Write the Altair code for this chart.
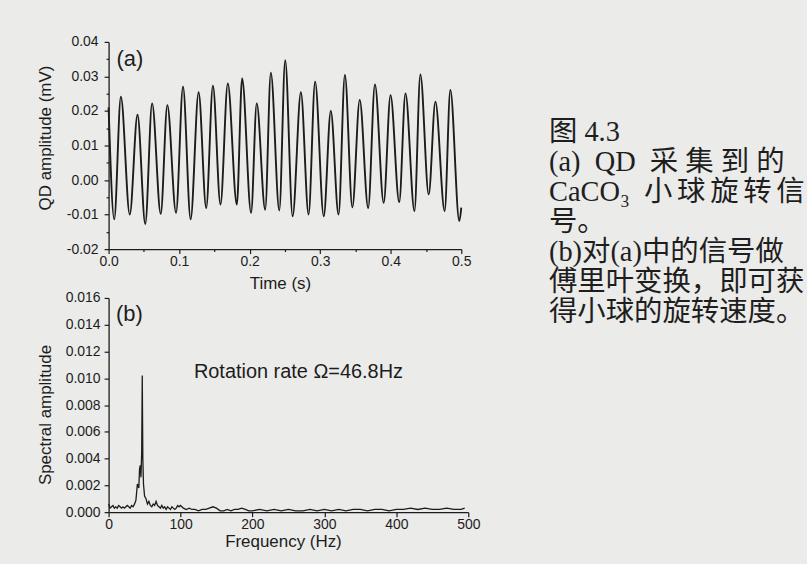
import altair as alt
import pandas as pd

# ---------------- data ----------------
# (a) QD signal: turning points of the trace, time (s) and amplitude (mV)
sig_t = [0.000, 0.008, 0.0174, 0.030, 0.041, 0.052, 0.0617, 0.0739, 0.0833, 0.0956,
         0.1055, 0.1163, 0.1276, 0.1384, 0.1479, 0.1586, 0.169, 0.1818, 0.1893, 0.202,
         0.210, 0.222, 0.230, 0.242, 0.2504, 0.2609, 0.2726, 0.2835, 0.2928, 0.305,
         0.315, 0.326, 0.335, 0.3456, 0.356, 0.368, 0.3776, 0.390, 0.3997, 0.412,
         0.4209, 0.4336, 0.442, 0.4538, 0.4633, 0.4764, 0.4845, 0.4972, 0.500]
sig_v = [0.021, -0.0114, 0.0241, -0.0100, 0.0189, -0.0127, 0.0222, -0.0098, 0.0217, -0.0095,
         0.0270, -0.0114, 0.0254, -0.0081, 0.0273, -0.0071, 0.0280, -0.0071, 0.0294, -0.0095,
         0.0222, -0.0086, 0.0311, -0.0088, 0.0347, -0.0105, 0.0254, -0.0100, 0.0285, -0.0105,
         0.0200, -0.0100, 0.0304, -0.0079, 0.0232, -0.0081, 0.0277, -0.0066, 0.0246, -0.0064,
         0.0251, -0.0090, 0.0306, -0.0042, 0.0227, -0.0090, 0.0261, -0.0119, -0.0080]

# (b) spectrum: frequency (Hz) and spectral amplitude
spec_f = [0, 2, 4, 6, 8, 10, 12, 14, 16, 18,
          20, 22, 24, 26, 28, 30, 32, 34, 36, 38,
          40, 42, 43, 44, 45, 46, 46.8, 47.6, 48.5, 50,
          52, 54, 56, 58, 60, 62, 64, 66, 68, 70,
          72, 74, 76, 78, 80, 82, 84, 86, 88, 90,
          92, 94, 96, 98, 100, 104, 108, 112, 116, 120,
          125, 130, 135, 140, 145, 150, 155, 160, 165, 170,
          175, 180, 185, 190, 195, 200, 210, 220, 230, 240,
          250, 260, 270, 280, 290, 300, 310, 320, 330, 340,
          350, 360, 370, 380, 390, 400, 410, 420, 430, 440,
          450, 460, 470, 480, 490, 495]
spec_a = [0.0006, 0.0003, 0.0004, 0.0005, 0.0003, 0.0004, 0.0003, 0.0005, 0.0004, 0.0003,
          0.0004, 0.0003, 0.0004, 0.0005, 0.0004, 0.0003, 0.0005, 0.0004, 0.0006, 0.0009,
          0.0021, 0.0018, 0.0032, 0.0035, 0.0026, 0.0045, 0.0102, 0.0040, 0.0021, 0.0012,
          0.0010, 0.0006, 0.0008, 0.0005, 0.0004, 0.0006, 0.0005, 0.0008, 0.0005, 0.0004,
          0.0003, 0.0005, 0.0003, 0.0004, 0.0002, 0.0004, 0.0003, 0.0002, 0.0004, 0.0003,
          0.0002, 0.0003, 0.0005, 0.0004, 0.0005, 0.0003, 0.0002, 0.0003, 0.0002, 0.0002,
          0.0001, 0.0002, 0.0002, 0.0003, 0.0004, 0.0003, 0.0001, 0.0001, 0.0002, 0.0001,
          0.0002, 0.0002, 0.0003, 0.0002, 0.0001, 0.0001, 0.0002, 0.0001, 0.0002, 0.0001,
          0.0002, 0.0001, 0.0001, 0.0002, 0.0001, 0.0002, 0.0001, 0.0002, 0.0001, 0.0002,
          0.0002, 0.0001, 0.0002, 0.0002, 0.0001, 0.0002, 0.0002, 0.0003, 0.0002, 0.0003,
          0.0002, 0.0002, 0.0003, 0.0002, 0.0002, 0.0003]

# tick values
top_x_ticks = [0.0, 0.05, 0.1, 0.15, 0.2, 0.25, 0.3, 0.35, 0.4, 0.45, 0.5]
top_y_ticks = [-0.02, -0.015, -0.01, -0.005, 0.0, 0.005, 0.01, 0.015, 0.02,
               0.025, 0.03, 0.035, 0.04]
bot_x_ticks = [0, 100, 200, 300, 400, 500]
bot_y_ticks = [0.0, 0.002, 0.004, 0.006, 0.008, 0.010, 0.012, 0.014, 0.016]

# annotations (placed in data coordinates)
label_a = {"text": "(a)", "t": 0.0113, "v": 0.0351}
label_b = {"text": "(b)", "f": 10.4, "a": 0.0148}
rate_note = {"text": "Rotation rate \u03a9=46.8Hz", "f": 118.6, "a": 0.0105}

# caption beside the figure (wide gaps as set in the page)
caption_lines = ["图 4.3",
                 "(a)\u2002QD\u2002采 集 到 的",
                 "CaCO\u2083\u2002小\u2006球\u2006旋\u2006转\u2006信",
                 "号。",
                 "(b)对(a)中的信号做",
                 "傅里叶变换，即可获",
                 "得小球的旋转速度。"]
caption_row = [0, 1, 2, 3, 4, 5, 6]

# ---------------- styling ----------------
FONT = "Liberation Sans"
CAP_FONT = "Liberation Serif, Noto Sans CJK SC"
INK = "#1c1c1c"
BG = "#ebebe9"
MINUS_FIX = "replace({}, '\u2212', '-')"

# ---------------- (a) time trace ----------------
sig_df = pd.DataFrame({"t": sig_t, "v": sig_v})
x_top = alt.X(
    "t:Q",
    scale=alt.Scale(domain=[0, 0.5], nice=False, zero=False),
    axis=alt.Axis(
        values=top_x_ticks, labelOverlap=False, labelFlush=False, ticks=True,
        labelExpr="round(datum.value*100) % 10 == 0 ? format(datum.value, '.1f') : ''",
        tickSize={"condition": {"test": "round(datum.value*100) % 10 != 0", "value": 2.5},
                  "value": 4.5},
        labelPadding=1,
        title="Time (s)", titleX=172, titleY=35,
        titleAlign="center", titleBaseline="middle",
    ),
)
y_top = alt.Y(
    "v:Q",
    scale=alt.Scale(domain=[-0.02, 0.04], nice=False, zero=False),
    axis=alt.Axis(
        values=top_y_ticks, labelOverlap=False, ticks=True,
        labelExpr="abs(round(datum.value*1000)) % 10 == 0 ? "
                  + MINUS_FIX.format("format(datum.value, '.2f')") + " : ''",
        tickSize={"condition": {"test": "abs(round(datum.value*1000)) % 10 != 0", "value": 2.5},
                  "value": 4.5},
        labelPadding=6,
        title="QD amplitude (mV)", titleX=-63, titleY=96,
        titleAlign="center", titleBaseline="middle", titleAngle=-90,
    ),
)
top_line = alt.Chart(sig_df).mark_line(
    color=INK, strokeWidth=1.9, interpolate="monotone"
).encode(x=x_top, y=y_top)

top_label = alt.Chart(pd.DataFrame([label_a])).mark_text(
    align="left", baseline="middle", font=FONT, fontSize=22, color=INK
).encode(x=x_top, y=y_top, text="text:N")

top = alt.layer(top_line, top_label).properties(width=354, height=208)

# ---------------- (b) spectrum ----------------
spec_df = pd.DataFrame({"f": spec_f, "a": spec_a})
x_bot = alt.X(
    "f:Q",
    scale=alt.Scale(domain=[0, 500], nice=False, zero=False),
    axis=alt.Axis(
        values=bot_x_ticks, format="d", tickSize=4.5, labelPadding=1,
        labelOverlap=False, labelFlush=False, ticks=True,
        title="Frequency (Hz)", titleX=175, titleY=29,
        titleAlign="center", titleBaseline="middle",
    ),
)
y_bot = alt.Y(
    "a:Q",
    scale=alt.Scale(domain=[0, 0.016], nice=False, zero=False),
    axis=alt.Axis(
        values=bot_y_ticks, format=".3f", tickSize=4.5, labelPadding=4,
        labelOverlap=False, ticks=True,
        title="Spectral amplitude", titleX=-63, titleY=117,
        titleAlign="center", titleBaseline="middle", titleAngle=-90,
    ),
)
bot_line = alt.Chart(spec_df).mark_line(
    color=INK, strokeWidth=1.3
).encode(x=x_bot, y=y_bot)

bot_label = alt.Chart(pd.DataFrame([label_b])).mark_text(
    align="left", baseline="middle", font=FONT, fontSize=22, color=INK
).encode(x=x_bot, y=y_bot, text="text:N")

rate_label = alt.Chart(pd.DataFrame([rate_note])).mark_text(
    align="left", baseline="middle", font=FONT, fontSize=20, color=INK
).encode(x=x_bot, y=y_bot, text="text:N")

bottom = alt.layer(bot_line, bot_label, rate_label).properties(width=361, height=215)

# ---------------- caption ----------------
cap_df = pd.DataFrame({"line": caption_lines, "row": caption_row,
                       "col": [0] * len(caption_lines)})
caption = alt.Chart(cap_df).mark_text(
    align="left", baseline="middle", font=CAP_FONT, fontSize=28.5,
    color="#1e1e1e", limit=258, ellipsis=""
).encode(
    x=alt.X("col:Q", scale=alt.Scale(domain=[0, 1]), axis=None),
    y=alt.Y("row:Q", scale=alt.Scale(domain=[-2.983, 3.911], reverse=True), axis=None),
    text="line:N",
).properties(width=258, height=208)

chart = alt.concat(
    top, caption, bottom,
    columns=2,
    spacing={"row": 49, "column": 81},
    bounds="flush",
).properties(
    padding={"left": 36, "top": 33, "right": 0, "bottom": 14},
    background=BG,
).configure_view(
    stroke="transparent"
).configure_axis(
    labelFont=FONT, titleFont=FONT, labelFontSize=14, titleFontSize=17,
    labelColor=INK, titleColor=INK, titleFontWeight="normal",
    domainColor=INK, tickColor=INK, domainWidth=1.3, tickWidth=1.2,
    grid=False, labelOverlap=False, labelFlush=False,
)

chart.save("out.html", embed_options={"renderer": "svg", "actions": False})
